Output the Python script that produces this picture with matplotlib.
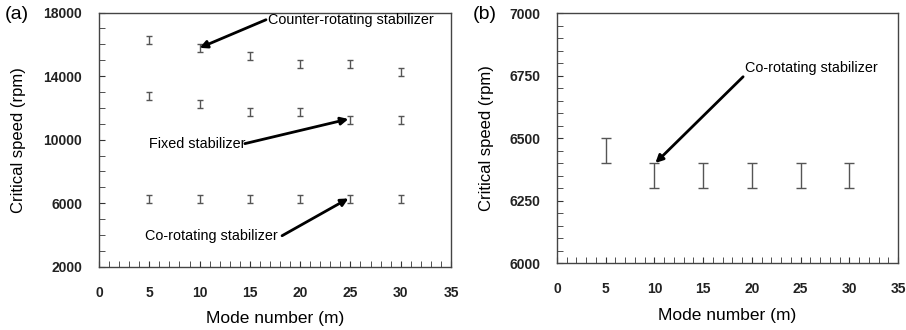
import numpy as np
import matplotlib.pyplot as plt
from matplotlib.ticker import MultipleLocator

plt.rcParams['font.family'] = ['Liberation Sans', 'DejaVu Sans']

modes = [5, 10, 15, 20, 25, 30]

# panel (a)
counter_rot = [16250, 15750, 15250, 14750, 14750, 14250]
fixed_stab = [12750, 12250, 11750, 11750, 11250, 11250]
co_rot_a = [6250, 6250, 6250, 6250, 6250, 6250]
err_a = 250

# panel (b)
co_rot_b = [6450, 6350, 6350, 6350, 6350, 6350]
err_b = 50

fig = plt.figure(figsize=(9.06, 3.3), dpi=100)
ax1 = fig.add_axes([0.1093, 0.1918, 0.3885, 0.770])
ax2 = fig.add_axes([0.6148, 0.203, 0.3764, 0.7576])

ebkw = dict(fmt="none", ecolor="#555555", elinewidth=1.0, capsize=2.5, capthick=1.0)
for ys in (counter_rot, fixed_stab, co_rot_a):
    ax1.errorbar(modes, ys, yerr=err_a, **ebkw)

ax2.errorbar(modes, co_rot_b, yerr=err_b, fmt="none", ecolor="#555555",
             elinewidth=1.0, capsize=3.5, capthick=1.0)

def style(ax, ylo, yhi, yticks, ymin, ylpad):
    ax.set_xlim(0, 35)
    ax.set_ylim(ylo, yhi)
    ax.xaxis.set_major_locator(MultipleLocator(5))
    ax.xaxis.set_minor_locator(MultipleLocator(1))
    ax.set_yticks(yticks)
    ax.yaxis.set_minor_locator(MultipleLocator(ymin))
    ax.tick_params(which="both", direction="in", color="#333333")
    ax.tick_params(which="major", length=4)
    ax.tick_params(which="minor", length=4)
    ax.tick_params(axis="x", which="major", pad=14, labelsize=10)
    ax.tick_params(axis="y", which="major", pad=12, labelsize=10)
    for lab in ax.get_xticklabels() + ax.get_yticklabels():
        lab.set_fontweight("bold")
        lab.set_color("#222222")
    for sp in ax.spines.values():
        sp.set_color("#444444")
        sp.set_linewidth(1.0)
    ax.set_xlabel("Mode number (m)", fontsize=12.5, labelpad=8)
    ax.set_ylabel("Critical speed (rpm)", fontsize=12, labelpad=ylpad)

style(ax1, 2000, 18000, [2000, 6000, 10000, 14000, 18000], 1000, 13)
style(ax2, 6000, 7000, [6000, 6250, 6500, 6750, 7000], 50, 11)

arrow = dict(arrowstyle="-|>", color="black", lw=2.0, mutation_scale=11,
             shrinkA=0, shrinkB=0)
fs = 10.4
ax1.text(16.8, 17550, "Counter-rotating stabilizer", fontsize=fs, va="center", ha="left")
ax1.text(5, 9750, "Fixed stabilizer", fontsize=fs, va="center", ha="left")
ax1.text(4.6, 3950, "Co-rotating stabilizer", fontsize=fs, va="center", ha="left")

ax1.annotate("", xy=(10, 15780), xytext=(16.6, 17550), arrowprops=arrow)
ax1.annotate("", xy=(24.8, 11300), xytext=(14.5, 9750), arrowprops=arrow)
ax1.annotate("", xy=(24.8, 6300), xytext=(18.2, 3950), arrowprops=arrow)

ax2.text(19.3, 6780, "Co-rotating stabilizer", fontsize=fs, va="center", ha="left")
ax2.annotate("", xy=(10.1, 6400), xytext=(19.1, 6745), arrowprops=arrow)

fig.text(0.005, 0.955, "(a)", fontsize=14, va="center", ha="left")
fig.text(0.522, 0.955, "(b)", fontsize=14, va="center", ha="left")

fig.savefig("out.png", dpi=100)
